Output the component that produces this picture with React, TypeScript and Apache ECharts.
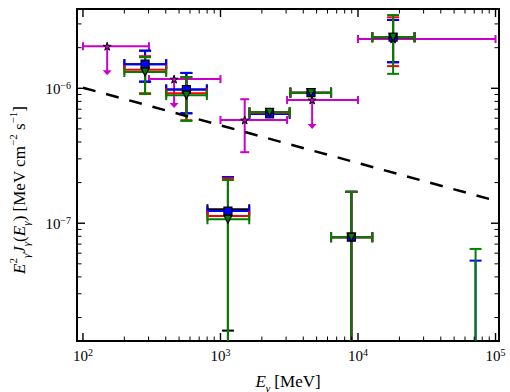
import { useEffect, useRef } from 'react';
import * as echarts from 'echarts';

const SERIF = "'Liberation Serif', 'DejaVu Serif', serif";

const X_MIN = 90.5;
const X_MAX = 106000;
const Y_MIN = 1.34e-8;
const Y_MAX = 3.87e-6;

// energy bins (MeV)
const binCenter = [283, 565, 1133, 2275, 4550, 8950, 18000, 71600];
const binLow = [200, 403, 804, 1625, 3220, 6370, 12700, 51000];
const binHigh = [403, 796, 1618, 3185, 6370, 12700, 25800, 100000];

const blackVal = [1.51e-6, 9.8e-7, 1.27e-7, 6.64e-7, 9.28e-7, 7.88e-8, 2.39e-6, 5e-9];
const blackLow = [1.12e-6, 6.53e-7, 1.6e-8, 6.64e-7, 9.28e-7, 1e-9, 1.56e-6, 5e-9];
const blackHigh = [1.9e-6, 1.3e-6, 2.2e-7, 6.64e-7, 9.28e-7, 1.71e-7, 3.21e-6, 5e-9];

const blueVal = [1.51e-6, 9.8e-7, 1.23e-7, 6.45e-7, 9.28e-7, 7.88e-8, 2.39e-6, 5e-9];
const blueLow = [1.12e-6, 6.53e-7, 1e-9, 6.45e-7, 9.28e-7, 1e-9, 1.56e-6, 1e-9];
const blueHigh = [1.9e-6, 1.3e-6, 2.2e-7, 6.45e-7, 9.28e-7, 1.71e-7, 3.21e-6, 5.28e-8];

const redVal = [1.37e-6, 9.2e-7, 1.13e-7, 6.6e-7, 9.28e-7, 7.88e-8, 2.39e-6, 5e-9];
const redLow = [9.2e-7, 5.8e-7, 1e-9, 6.6e-7, 9.28e-7, 1e-9, 1.46e-6, 5e-9];
const redHigh = [1.73e-6, 1.21e-6, 2.15e-7, 6.6e-7, 9.28e-7, 1.71e-7, 3.36e-6, 5e-9];

const greenVal = [1.32e-6, 8.9e-7, 1.07e-7, 6.64e-7, 9.28e-7, 7.88e-8, 2.39e-6, 5e-9];
const greenLow = [9.07e-7, 5.73e-7, 1e-9, 6.64e-7, 9.28e-7, 1e-9, 1.28e-6, 1e-9];
const greenHigh = [1.7e-6, 1.21e-6, 2.09e-7, 6.64e-7, 9.28e-7, 1.71e-7, 3.49e-6, 6.45e-8];

// magenta points (upper limits flagged)
const limE = [150, 460, 1500, 4640, 18000];
const limELow = [100, 302, 1000, 3050, 10000];
const limEHigh = [302, 1000, 3050, 10000, 100000];
const limVal = [2.05e-6, 1.17e-6, 5.82e-7, 8.2e-7, 2.32e-6];
const limValLow = [2.05e-6, 1.17e-6, 3.36e-7, 8.2e-7, 2.32e-6];
const limValHigh = [2.05e-6, 1.17e-6, 8.3e-7, 8.2e-7, 2.32e-6];
const limIsUpper = [1, 1, 0, 1, 0];

// dashed model line
const modelE = [100, 100000];
const modelVal = [1.01e-6, 1.47e-7];

// tick values
const xMajorTicks = [100, 1000, 10000, 100000];
const yMajorTicks = [1e-8, 1e-7, 1e-6];
const minorSteps = [2, 3, 4, 5, 6, 7, 8, 9];
const xMinorTicks = xMajorTicks.flatMap((d) => minorSteps.map((m) => m * d));
const yMinorTicks = yMajorTicks.flatMap((d) => minorSteps.map((m) => m * d));

const BLUE = '#0000ff';
const RED = '#ff0000';
const GREEN = '#008000';
const BLACK = '#000000';
const MAGENTA = '#cc00cc';

function rows(xs: number[], xl: number[], xh: number[], v: number[], vl: number[], vh: number[], ul?: number[]) {
  return xs.map((x, i) => [x, v[i], xl[i], xh[i], vl[i], vh[i], ul ? ul[i] : 0]);
}

function errRenderer(color: string, capX: number, capY: number, lw: number, opacity: number) {
  return (params: any, api: any) => {
    const cs = params.coordSys;
    const left = cs.x, right = cs.x + cs.width, top = cs.y, bot = cs.y + cs.height;
    const x = api.value(0), y = api.value(1);
    const c = api.coord([x, y]);
    const xl = api.coord([api.value(2), y])[0];
    const xh = api.coord([api.value(3), y])[0];
    const vlo = api.value(4), vhi = api.value(5);
    const yl = api.coord([x, vlo])[1];
    const yh = api.coord([x, vhi])[1];
    const ul = api.value(6);
    const st = { stroke: color, lineWidth: lw, opacity };
    const ch: any[] = [];
    const line = (x1: number, y1: number, x2: number, y2: number) =>
      ch.push({ type: 'line', shape: { x1, y1, x2, y2 }, style: st });
    const inY = (p: number) => p >= top - 0.5 && p <= bot + 0.5;
    const inX = (p: number) => p >= left - 0.5 && p <= right + 0.5;
    if (inY(c[1])) {
      const a = Math.max(left, xl), b = Math.min(right, xh);
      if (b > a) line(a, c[1], b, c[1]);
      if (inX(xl)) line(xl, c[1] - capX, xl, c[1] + capX);
      if (inX(xh)) line(xh, c[1] - capX, xh, c[1] + capX);
    }
    if (ul) {
      const len = 29;
      line(c[0], c[1], c[0], c[1] + len - 4);
      ch.push({
        type: 'polygon',
        shape: { points: [[c[0] - 4.5, c[1] + len - 5], [c[0] + 4.5, c[1] + len - 5], [c[0], c[1] + len]] },
        style: { fill: color, opacity },
      });
    } else if (vhi > vlo) {
      const a = Math.max(top, yh), b = Math.min(bot, yl);
      if (b > a) line(c[0], a, c[0], b);
      if (inY(yh)) line(c[0] - capY, yh, c[0] + capY, yh);
      if (inY(yl)) line(c[0] - capY, yl, c[0] + capY, yl);
    }
    return { type: 'group', children: ch };
  };
}

function errSeries(name: string, data: number[][], color: string, capX: number, capY: number, lw: number, opacity: number) {
  return {
    type: 'custom',
    name,
    data,
    encode: { x: [0, 2, 3], y: [1, 4, 5] },
    renderItem: errRenderer(color, capX, capY, lw, opacity),
    silent: true,
  };
}

const tickRenderer = (params: any, api: any) => {
  const cs = params.coordSys;
  const left = cs.x, right = cs.x + cs.width, top = cs.y, bot = cs.y + cs.height;
  const ch: any[] = [];
  const add = (x1: number, y1: number, x2: number, y2: number, w: number) =>
    ch.push({ type: 'line', shape: { x1, y1, x2, y2 }, style: { stroke: '#000', lineWidth: w } });
  const xt = (vals: number[], len: number, w: number) => {
    vals.forEach((v) => {
      const px = api.coord([v, 1e-7])[0];
      if (px < left + 1 || px > right - 1) return;
      add(px, bot, px, bot - len, w);
      add(px, top, px, top + len, w);
    });
  };
  const yt = (vals: number[], len: number, w: number) => {
    vals.forEach((v) => {
      const py = api.coord([1000, v])[1];
      if (py < top + 1 || py > bot - 1) return;
      add(left, py, left + len, py, w);
      add(right, py, right - len, py, w);
    });
  };
  xt(xMajorTicks, 8, 1.4);
  xt(xMinorTicks, 4.5, 1);
  yt(yMajorTicks, 8, 1.4);
  yt(yMinorTicks, 4.5, 1);
  return { type: 'group', children: ch };
};

const powLabel = (v: number) => {
  const l = Math.log10(v);
  const r = Math.round(l);
  if (Math.abs(l - r) > 1e-6) return '';
  return `{b|10}{s|${r < 0 ? '\u2212' + -r : r}}`;
};

const labelRich = {
  b: { fontFamily: SERIF, fontSize: 15, lineHeight: 16, verticalAlign: 'bottom', color: '#000' },
  s: { fontFamily: SERIF, fontSize: 10, lineHeight: 10, verticalAlign: 'top', color: '#000' },
};

const titleRich: any = {
  n: { fontFamily: SERIF, fontSize: 17, lineHeight: 24, verticalAlign: 'middle', fill: '#000', color: '#000' },
  i: { fontFamily: SERIF, fontSize: 17, fontStyle: 'italic', lineHeight: 24, verticalAlign: 'middle', fill: '#000', color: '#000' },
  sp: { fontFamily: SERIF, fontSize: 11, lineHeight: 11, verticalAlign: 'top', fill: '#000', color: '#000' },
  sb: { fontFamily: SERIF, fontSize: 11, fontStyle: 'italic', lineHeight: 11, verticalAlign: 'bottom', fill: '#000', color: '#000' },
};

const yTitle = '{i|E}{sp|2}{sb|\u03b3}{i|J}{sb|\u03b3}{n|(}{i|E}{sb|\u03b3}{n|) [MeV cm}{sp|\u22122}{n| s}{sp|\u22121}{n|]}';
const xTitle = '{i|E}{sb|\u03b3}{n| [MeV]}';

const starPath = 'path://M50,0 L61,35 L98,35 L68,57 L79,91 L50,70 L21,91 L32,57 L2,35 L39,35 Z';

const option: any = {
  animation: false,
  grid: { left: 77, right: 11, top: 9, bottom: 51, show: true, borderColor: '#000', borderWidth: 2 },
  xAxis: {
    type: 'log',
    logBase: 10,
    min: X_MIN,
    max: X_MAX,
    axisLine: { show: false },
    axisTick: { show: false },
    splitLine: { show: false },
    minorTick: { show: false },
    axisLabel: { interval: 0, margin: 6, formatter: powLabel, rich: labelRich },
  },
  yAxis: {
    type: 'log',
    logBase: 10,
    min: Y_MIN,
    max: Y_MAX,
    axisLine: { show: false },
    axisTick: { show: false },
    splitLine: { show: false },
    minorTick: { show: false },
    axisLabel: { interval: 0, margin: 6, formatter: powLabel, rich: labelRich },
  },
  graphic: [
    {
      type: 'text',
      x: 19,
      y: 190,
      rotation: Math.PI / 2,
      style: { text: yTitle, rich: titleRich, align: 'center', verticalAlign: 'middle', fill: '#000' },
    },
    {
      type: 'text',
      x: 288,
      y: 381,
      style: { text: xTitle, rich: titleRich, align: 'center', verticalAlign: 'middle', fill: '#000' },
    },
  ],
  series: [
    {
      type: 'line',
      data: modelE.map((e, i) => [e, modelVal[i]]),
      showSymbol: false,
      symbol: 'none',
      lineStyle: { color: '#000', width: 2.5, type: [13, 11] },
      silent: true,
    },
    errSeries('limits', rows(limE, limELow, limEHigh, limVal, limValLow, limValHigh, limIsUpper), MAGENTA, 4, 4.5, 2, 1),
    errSeries('black', rows(binCenter, binLow, binHigh, blackVal, blackLow, blackHigh), BLACK, 5, 6, 2, 1),
    errSeries('blue', rows(binCenter, binLow, binHigh, blueVal, blueLow, blueHigh), BLUE, 5, 6, 2, 1),
    errSeries('red', rows(binCenter, binLow, binHigh, redVal, redLow, redHigh), RED, 5, 6, 2, 1),
    errSeries('green', rows(binCenter, binLow, binHigh, greenVal, greenLow, greenHigh), GREEN, 5, 6, 2, 1),
    {
      type: 'scatter',
      data: limE.map((e, i) => [e, limVal[i]]),
      symbol: starPath,
      symbolSize: 8,
      itemStyle: { color: MAGENTA, borderColor: '#000', borderWidth: 1, opacity: 1 },
      silent: true,
    },
    {
      type: 'scatter',
      data: binCenter.map((e, i) => [e, blueVal[i]]),
      symbol: 'rect',
      symbolSize: 8,
      itemStyle: { color: BLUE, borderColor: '#000', borderWidth: 1.2, opacity: 1 },
      silent: true,
    },
    {
      type: 'scatter',
      data: binCenter.map((e, i) => [e, greenVal[i]]),
      symbol: 'triangle',
      symbolRotate: 180,
      symbolSize: 8,
      itemStyle: { color: GREEN, borderColor: '#000', borderWidth: 1.2, opacity: 1 },
      silent: true,
    },
    {
      type: 'custom',
      data: [[1000, 1e-7]],
      encode: { x: 0, y: 1 },
      renderItem: tickRenderer,
      silent: true,
      z: 10,
    },
  ],
};

export default function App() {
  const ref = useRef<HTMLDivElement>(null);
  useEffect(() => {
    const chart = echarts.init(ref.current!, undefined, { renderer: 'svg' });
    chart.setOption(option);
    return () => chart.dispose();
  }, []);
  return (
    <div
      ref={ref}
      style={{ position: 'fixed', left: 0, top: 0, width: 510, height: 392, background: '#fff' }}
    />
  );
}
